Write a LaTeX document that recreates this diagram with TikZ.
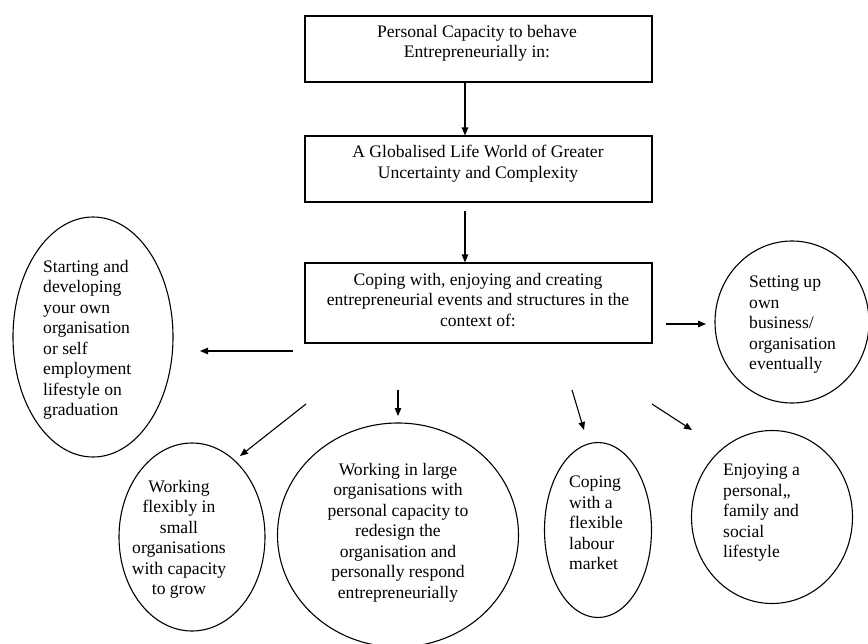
\documentclass[tikz,border=0pt]{standalone}
\usepackage{fontspec}
\setmainfont{Liberation Serif}
\usetikzlibrary{arrows.meta,shapes.geometric}
\begin{document}
\begin{tikzpicture}[x=1pt,y=-1pt,
  box/.style={draw, line width=1.1pt, rectangle, minimum width=347pt, inner sep=0pt},
  oval/.style={draw, line width=1.1pt, ellipse, inner sep=0pt},
  txt/.style={inner sep=0pt, font=\fontsize{17.6}{20.5}\selectfont},
  arr/.style={line width=1.1pt, -{Triangle[length=8pt,width=6.5pt]}}
]
\useasboundingbox (0,0) rectangle (868,643);
% boxes
\node[box, minimum height=66pt] (b1) at (478.5,49) {};
\node[box, minimum height=66pt] (b2) at (478.5,169) {};
\node[box, minimum height=80pt] (b3) at (478.5,303) {};
\node[txt, align=center, anchor=north] (t1) at (477,25) {Personal Capacity to behave\\Entrepreneurially in:};
\node[txt, align=center, anchor=north] (t2) at (478,145) {A Globalised Life World of Greater\\Uncertainty and Complexity};
\node[txt, align=center, anchor=north] (t3) at (478,273) {Coping with, enjoying and creating\\entrepreneurial events and structures in the\\context of:};
% ovals
\node[oval, minimum width=160pt, minimum height=240pt] (start) at (93,337) {};
\node[oval, minimum width=154pt, minimum height=162pt] (setup) at (792,322) {};
\node[oval, minimum width=146pt, minimum height=188pt] (flex) at (192,537) {};
\node[oval, minimum width=241pt, minimum height=224pt] (large) at (398,535) {};
\node[oval, minimum width=107pt, minimum height=175pt] (cope) at (598,530) {};
\node[oval, minimum width=161pt, minimum height=173pt] (enjoy) at (772,517) {};
% oval texts
\node[txt, align=left, anchor=north west] (tstart) at (43,260) {Starting and\\developing\\your own\\organisation\\or self\\employment\\lifestyle on\\graduation};
\node[txt, align=left, anchor=north west] (tsetup) at (749,276) {Setting up\\own\\business/\\organisation\\eventually};
\node[txt, align=center, anchor=north] (tflex) at (179,480) {Working\\flexibly in\\small\\organisations\\with capacity\\to grow};
\node[txt, align=center, anchor=north] (tlarge) at (398,463) {Working in large\\organisations with\\personal capacity to\\redesign  the\\organisation and\\personally respond\\entrepreneurially};
\node[txt, align=left, anchor=north west] (tcope) at (569,476) {Coping\\with a\\flexible\\labour\\market};
\node[txt, align=left, anchor=north west] (tenjoy) at (723,464) {Enjoying a\\personal,,\\family and\\social\\lifestyle};
% arrow coordinates
\coordinate (cx) at (465,0);
\coordinate (lA) at (293,351); \coordinate (lB) at (200,351);
\coordinate (rA) at (666,324); \coordinate (rB) at (706,324);
\coordinate (fA) at (306,404); \coordinate (fB) at (240,456);
\coordinate (dA) at (398,390); \coordinate (dB) at (398,416);
\coordinate (cA) at (572,390); \coordinate (cB) at (584,430);
\coordinate (eA) at (652,404); \coordinate (eB) at (692,430);
% connectors
\draw[arr] (b1.south -| cx) -- (b2.north -| cx);
\draw[arr, shorten <=8pt] (b2.south -| cx) -- (b3.north -| cx);
\draw[arr] (lA) -- (lB);
\draw[arr] (rA) -- (rB);
\draw[arr] (fA) -- (fB);
\draw[arr] (dA) -- (dB);
\draw[arr] (cA) -- (cB);
\draw[arr] (eA) -- (eB);
\end{tikzpicture}
\end{document}
